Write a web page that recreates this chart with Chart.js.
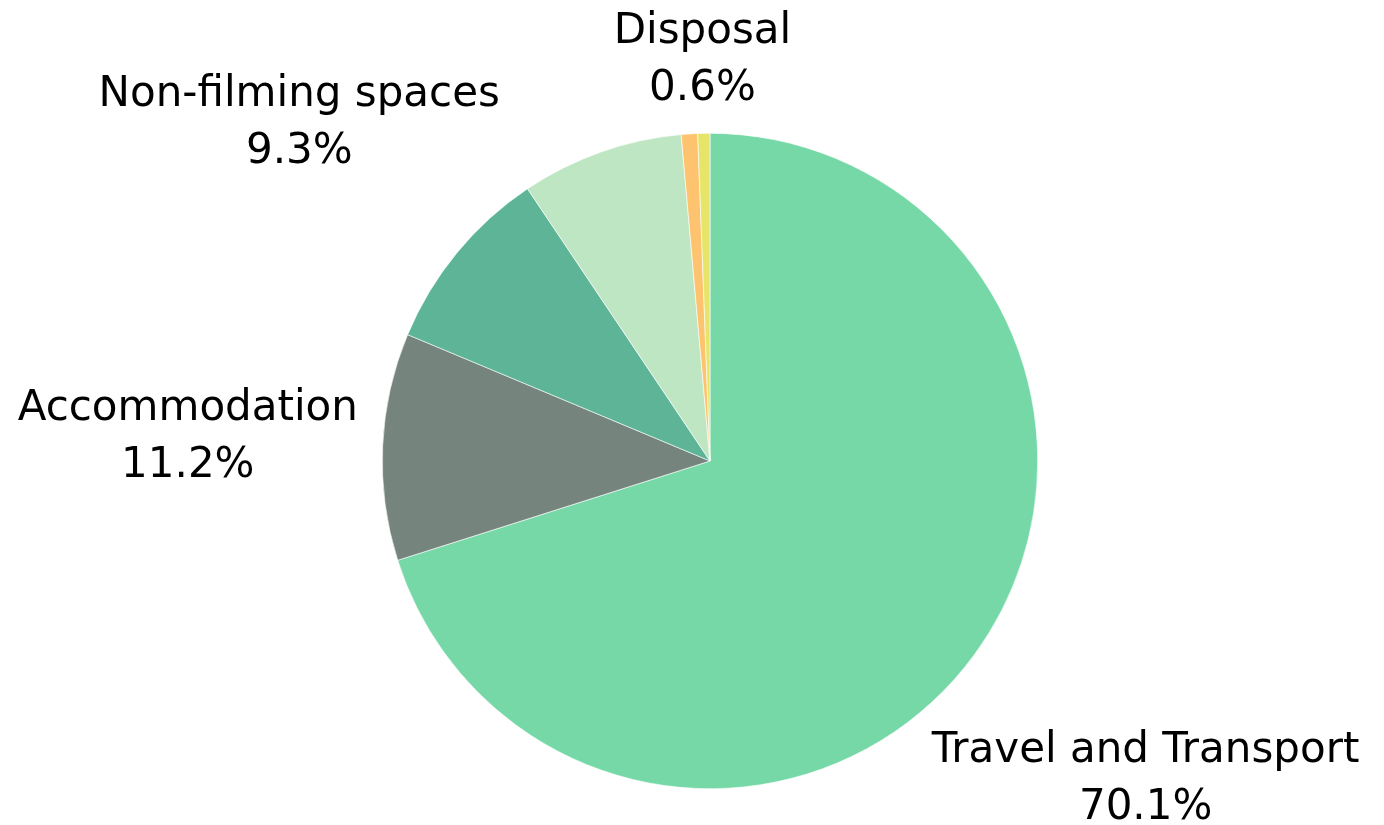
<!DOCTYPE html>
<html>
<head>
<meta charset="utf-8">
<script src="https://cdn.jsdelivr.net/npm/chart.js@4"></script>
<style>
  html, body { margin: 0; padding: 0; background: #ffffff; }
  #wrap { width: 1384px; height: 825px; position: relative; }
</style>
</head>
<body>
<div id="wrap"><canvas id="grafico"></canvas></div>
<script>
// dados do grafico
var categorias = ['Travel and Transport', 'Accommodation', 'Non-filming spaces', 'Other (unlabelled)', 'Other small (unlabelled)', 'Disposal'];
var valores = [70.1, 11.2, 9.3, 8.0, 0.8, 0.6];
var mostrarRotulo = [true, true, true, false, false, true];
var cores = ['#76d8a6', '#76847e', '#5eb497', '#bfe6c3', '#fdc36e', '#e6e56a'];

// rotulos fora da pizza: nome + percentual
var rotulosPlugin = {
    id: 'rotulosFora',
    afterDatasetsDraw: function (chart, args, opts) {
        var ctx = chart.ctx;
        var arcs = chart.getDatasetMeta(0).data;
        var total = valores.reduce(function (a, b) { return a + b; }, 0);
        ctx.save();
        ctx.fillStyle = '#000000';
        ctx.font = opts.font;
        ctx.textAlign = 'center';
        ctx.textBaseline = 'middle';
        arcs.forEach(function (arc, i) {
            if (!mostrarRotulo[i]) return;
            var meio = (arc.startAngle + arc.endAngle) / 2;
            var d = arc.outerRadius + opts.gap[i];
            var cx = arc.x + d * Math.cos(meio);
            var cy = arc.y + d * Math.sin(meio);
            var pct = (valores[i] / total * 100).toFixed(1) + '%';
            ctx.fillText(categorias[i], cx, cy - opts.lineHeight / 2);
            ctx.fillText(pct, cx, cy + opts.lineHeight / 2);
        });
        ctx.restore();
    }
};

var ctx = document.getElementById('grafico').getContext('2d');
var meuGrafico = new Chart(ctx, {
    type: 'pie',
    data: {
        labels: categorias,
        datasets: [{
            data: valores,
            backgroundColor: cores,
            borderColor: '#ffffff',
            borderWidth: 0.6
        }]
    },
    plugins: [rotulosPlugin],
    options: {
        responsive: true,
        maintainAspectRatio: false,
        animation: false,
        layout: { padding: { left: 382, right: 346, top: 133, bottom: 36 } },
        plugins: {
            legend: { display: false },
            tooltip: { enabled: false },
            rotulosFora: {
                font: '42px "DejaVu Sans"',
                lineHeight: 57,
                gap: [212, 195, 204, 0, 0, 73]
            }
        }
    }
});
</script>
</body>
</html>
